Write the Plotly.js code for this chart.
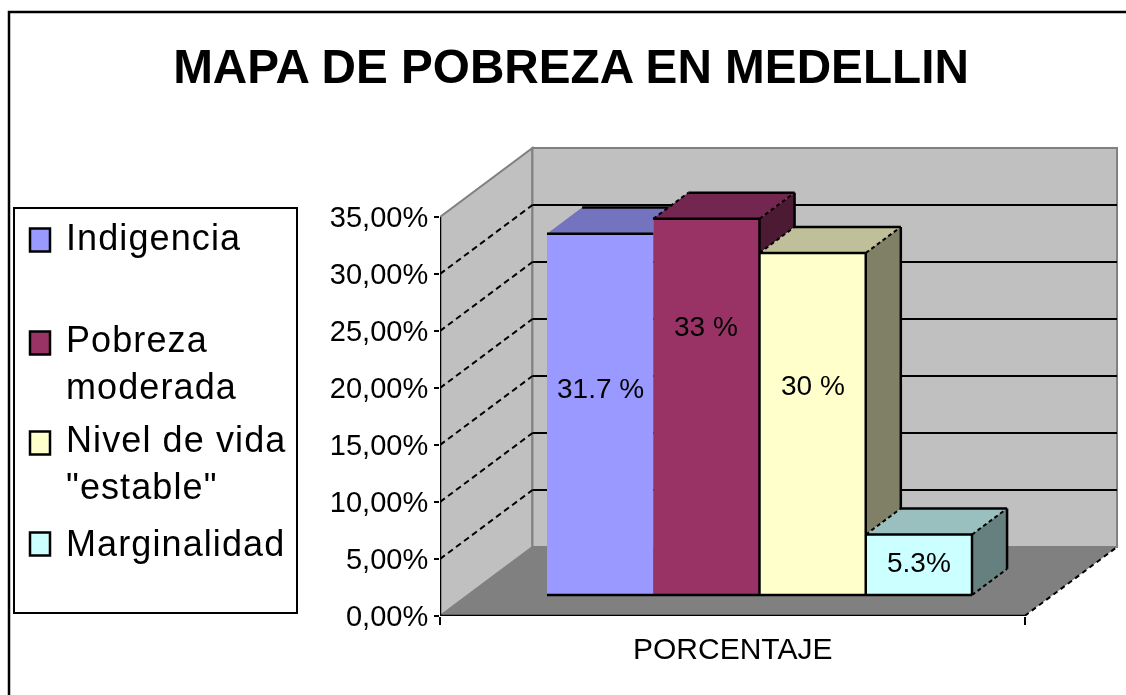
<!DOCTYPE html>
<html>
<head>
<meta charset="utf-8">
<script src="https://cdn.plot.ly/plotly-3.0.1.min.js"></script>
<style>html,body{margin:0;padding:0;background:#fff;overflow:hidden}#chart{width:1126px;height:695px;filter:blur(0.5px)}</style>
</head>
<body>
<div id="chart"></div>
<script>
// Data
const categories = ['Indigencia', 'Pobreza moderada', 'Nivel de vida "estable"', 'Marginalidad'];
const legendLabels = ['Indigencia', 'Pobreza<br>moderada', 'Nivel de vida<br>"estable"', 'Marginalidad'];
const values = [31.7, 33, 30, 5.3];
const valueLabels = ['31.7 %', '33 %', '30 %', '5.3%'];
const yTicks = [0, 5, 10, 15, 20, 25, 30, 35];
const yTickLabels = ['0,00%', '5,00%', '10,00%', '15,00%', '20,00%', '25,00%', '30,00%', '35,00%'];
const axisCategory = 'PORCENTAJE';
const chartTitle = 'MAPA DE POBREZA EN MEDELLIN';

// Style
const frontColors = ['#9999FF', '#993366', '#FFFFCC', '#CCFFFF'];
const topColors = ['#7373BF', '#732650', '#BFBF99', '#99BFBF'];
const sideColors = ['#4D4D80', '#4D1A33', '#808066', '#668080'];
const labelHeights = [20, 25.4, 20.2, 4.7];
const legendCenters = [237, 363, 463, 543];
const swatchCenters = [240, 343, 443, 544];

// Pixel frame of the plot
const W = 1126, H = 695;
const L = 440, R = 1122, T = 143, B = 616;
const pxPerUnitY = 11.4, pxPerUnitX = 106.25;
const xMin = -0.507, xMax = xMin + (R - L) / pxPerUnitX;
const yMax = (B - T) / pxPerUnitY;
const px = v => (v - L) / (R - L);
const py = v => (B - v) / (B - T);

// Depth of the pseudo 3D box and of the bars, in data units
const frontRight = 4.995, wallDX = 0.87, wallDY = 6.05;
const barBase = 1.84, barDX = 0.33, barDY = 2.29;
const font = 'Liberation Sans, Arial, sans-serif';

const shapes = [];
const poly = (pts, fill, line) => ({
  type: 'path', xref: 'x', yref: 'y', layer: 'below',
  path: 'M' + pts.map(p => p[0] + ',' + p[1]).join('L') + 'Z',
  fillcolor: fill, line: line || {width: 0}
});
const wallLine = {color: '#808080', width: 2};
const top35 = 35;
// left wall, back wall, floor
shapes.push(poly([[xMin, 0], [xMin, top35], [xMin + wallDX, top35 + wallDY], [xMin + wallDX, wallDY]], '#C0C0C0', wallLine));
shapes.push(poly([[xMin + wallDX, wallDY], [xMin + wallDX, top35 + wallDY], [frontRight + wallDX, top35 + wallDY], [frontRight + wallDX, wallDY]], '#C0C0C0', wallLine));
shapes.push(poly([[xMin, 0], [xMin + wallDX, wallDY], [frontRight + wallDX, wallDY], [frontRight, 0]], '#808080'));
// dashed right edge of the floor
shapes.push({type: 'line', xref: 'x', yref: 'y', layer: 'below', x0: frontRight, y0: 0, x1: frontRight + wallDX, y1: wallDY,
  line: {color: '#000', width: 2, dash: '5px,4px'}});
// gridlines
yTicks.filter(v => v > 0 && v < 35).forEach(v => {
  shapes.push({type: 'line', xref: 'x', yref: 'y', layer: 'below', x0: xMin, y0: v, x1: xMin + wallDX, y1: v + wallDY,
    line: {color: '#000', width: 2, dash: '6px,4px'}});
  shapes.push({type: 'line', xref: 'x', yref: 'y', layer: 'below', x0: xMin + wallDX, y0: v + wallDY, x1: frontRight + wallDX, y1: v + wallDY,
    line: {color: '#000', width: 2}});
});
// outer frame
shapes.push({type: 'path', xref: 'paper', yref: 'paper', layer: 'above',
  path: `M${px(9)},${py(H)}L${px(9)},${py(12)}L${px(W)},${py(12)}`, line: {color: '#000', width: 2.5}});
// legend box and swatches
shapes.push({type: 'rect', xref: 'paper', yref: 'paper', layer: 'above', x0: px(14), x1: px(297), y0: py(613), y1: py(208),
  fillcolor: '#fff', line: {color: '#000', width: 2}});
categories.forEach((c, i) => {
  shapes.push({type: 'rect', xref: 'paper', yref: 'paper', layer: 'above', x0: px(30), x1: px(50), y0: py(swatchCenters[i] + 11.5), y1: py(swatchCenters[i] - 11.5),
    fillcolor: frontColors[i], line: {color: '#000', width: 2.5}});
});

const traces = [];
// front faces: real bars
categories.forEach((c, i) => {
  traces.push({type: 'bar', name: c, x: [i + 1], y: [values[i]], base: [barBase], width: [1],
    marker: {color: frontColors[i], line: {width: 0}}, showlegend: false, hoverinfo: 'skip'});
});
const edge = (xs, ys, dash) => ({type: 'scatter', mode: 'lines', x: xs, y: ys, showlegend: false, hoverinfo: 'skip',
  cliponaxis: false, line: {color: '#000', width: dash ? 2 : 2.5, dash: dash || 'solid'}});
const face = (xs, ys, color) => ({type: 'scatter', mode: 'lines', x: xs, y: ys, fill: 'toself', fillcolor: color,
  line: {width: 0}, showlegend: false, hoverinfo: 'skip'});

// top and side faces, clipped against the next bar's front
values.forEach((val, i) => {
  const v = val + barBase;
  const next = i + 1 < values.length ? values[i + 1] + barBase : barBase;
  const x0 = i + 0.5, x1 = i + 1.5;
  const yBack = v + barDY;
  if (next > v) {
    traces.push(face([x0, x0 + barDX, x1 + barDX, x1, x1, x0], [v, yBack, yBack, next, v, v], topColors[i]));
  } else {
    traces.push(face([x0, x0 + barDX, x1 + barDX, x1, x0], [v, yBack, yBack, v, v], topColors[i]));
    const low = Math.max(next, barBase);
    traces.push(face([x1, x1 + barDX, x1 + barDX, x1, x1], [v, yBack, low + barDY, low, v], sideColors[i]));
    traces.push(edge([x1 + barDX, x1 + barDX], [yBack, low + barDY]));
    traces.push(edge([x1, x1 + barDX], [v, yBack], '4px,3px'));
    traces.push(edge([x1, x1], [barBase, v]));
    if (next === barBase) traces.push(edge([x1, x1 + barDX], [barBase, barBase + barDY], '4px,3px'));
  }
  traces.push(edge([x0 + barDX, x1 + barDX], [yBack, yBack]));
  traces.push(edge([x0, x1], [v, v]));
  if (i > 0) traces.push(edge([x0, x0 + barDX], [v, yBack], '4px,3px'));
});
// baseline of the bars
traces.push(edge([0.5, values.length + 0.5], [barBase, barBase]));
// axis lines limited to the front plane
traces.push(edge([xMin, xMin], [0, 35]));
traces.push(edge([xMin, frontRight], [0, 0]));

const annotations = [];
values.forEach((v, i) => {
  annotations.push({xref: 'x', yref: 'y', x: i + 1, y: labelHeights[i], text: valueLabels[i], showarrow: false,
    font: {family: font, size: 28, color: '#000'}, xanchor: 'center', yanchor: 'middle'});
});
legendLabels.forEach((t, i) => {
  const spaced = t.split('<br>').map(s => '<span style="letter-spacing:1.1px">' + s + '</span>').join('<br>');
  annotations.push({xref: 'paper', yref: 'paper', x: px(64), y: py(legendCenters[i]), text: spaced, showarrow: false, align: 'left',
    font: {family: font, size: 36, color: '#000'}, xanchor: 'left', yanchor: 'middle'});
});
annotations.push({xref: 'paper', yref: 'paper', x: px(732), y: py(648), text: axisCategory, showarrow: false,
  font: {family: font, size: 30, color: '#000'}, xanchor: 'center', yanchor: 'middle'});

const layout = {
  width: W, height: H,
  margin: {l: L, r: W - R, t: T, b: H - B, pad: 0, autoexpand: false},
  paper_bgcolor: '#fff', plot_bgcolor: 'rgba(0,0,0,0)',
  showlegend: false,
  hovermode: false,
  title: {text: '<b>' + chartTitle + '</b>', x: 571 / W, xref: 'container', xanchor: 'center',
    y: 1 - 66 / H, yref: 'container', yanchor: 'middle', font: {family: font, size: 47.7, color: '#000'}},
  xaxis: {range: [xMin, xMax], showgrid: false, zeroline: false, showline: false, showticklabels: false,
    ticks: 'outside', tickmode: 'array', tickvals: [xMin, frontRight], ticklen: 8, tickwidth: 2, tickcolor: '#000'},
  yaxis: {range: [0, yMax], showgrid: false, zeroline: false, showline: false,
    ticks: 'outside', tickmode: 'array', tickvals: yTicks, ticktext: yTickLabels, ticklen: 5, tickwidth: 2, tickcolor: '#000',
    ticklabelstandoff: 0, tickfont: {family: font, size: 29, color: '#000'}},
  barmode: 'overlay',
  shapes: shapes,
  annotations: annotations
};
Plotly.newPlot('chart', traces, layout, {displayModeBar: false, staticPlot: true});
</script>
</body>
</html>
